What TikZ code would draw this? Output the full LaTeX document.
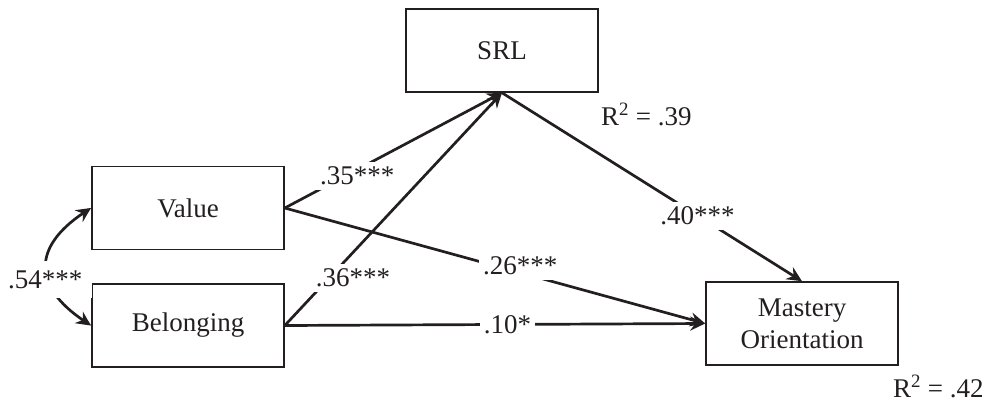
\documentclass[tikz,border=0pt]{standalone}
\usepackage{fontspec}
\setmainfont{Liberation Serif}
\usetikzlibrary{arrows.meta,bending}
\definecolor{ink}{HTML}{231F20}
\begin{document}
\begin{tikzpicture}[x=1pt,y=-1pt,
  every node/.style={font=\fontsize{27}{32}\selectfont, text=ink},
  var/.style={draw=ink, line width=1.6pt, minimum width=192pt, minimum height=83pt,
    align=center, inner sep=0pt},
  tip/.tip={Stealth[length=15pt,width=14pt,inset=5pt]},
  conn/.style={draw=ink, line width=2.7pt, -tip},
  coef/.style={fill=white, inner xsep=4pt, inner ysep=5pt, text height=18pt, text depth=0pt},
  rsq/.style={anchor=base west, inner sep=0pt}]
\useasboundingbox (0,0) rectangle (987,402);

% variables
\node[var] (srl)  at (502,50.5)  {SRL};
\node[var] (val)  at (188,208)   {Value};
\node[var] (bel)  at (188,325.5) {Belonging};
\node[var] (mast) at (802,323.5) {Mastery\\Orientation};

% explained variance
\node[rsq] (r39) at (601,125) {R\textsuperscript{2} = .39};
\node[rsq] (r42) at (893,397) {R\textsuperscript{2} = .42};

% paths
\draw[conn] (val.east) -- (srl.south)
  node[coef, pos=0.333, yshift=-6pt] (c35) {.35***};
\draw[conn] (bel.east) -- (srl.south)
  node[coef, pos=0.206, xshift=23.5pt] (c36) {.36***};
\draw[conn] (srl.south) -- (mast.north)
  node[coef, pos=0.652] (c40) {.40***};
\draw[conn] (val.east) -- (mast.west)
  node[coef, pos=0.56, yshift=7pt] (c26) {.26***};
\draw[conn] (bel.east) -- (mast.west)
  node[coef, pos=0.53] (c10) {.10*};

% correlation
\draw[draw=ink, line width=2.7pt, {Stealth[length=15pt,width=14pt,inset=5pt,bend]}-{Stealth[length=15pt,width=14pt,inset=5pt,bend]}]
  (val.west) .. controls (30,245) and (30,288) .. (bel.west)
  node[coef, pos=0.5, yshift=-12.5pt, inner xsep=10pt, inner ysep=9.5pt] (c54) {.54***};
\end{tikzpicture}
\end{document}
